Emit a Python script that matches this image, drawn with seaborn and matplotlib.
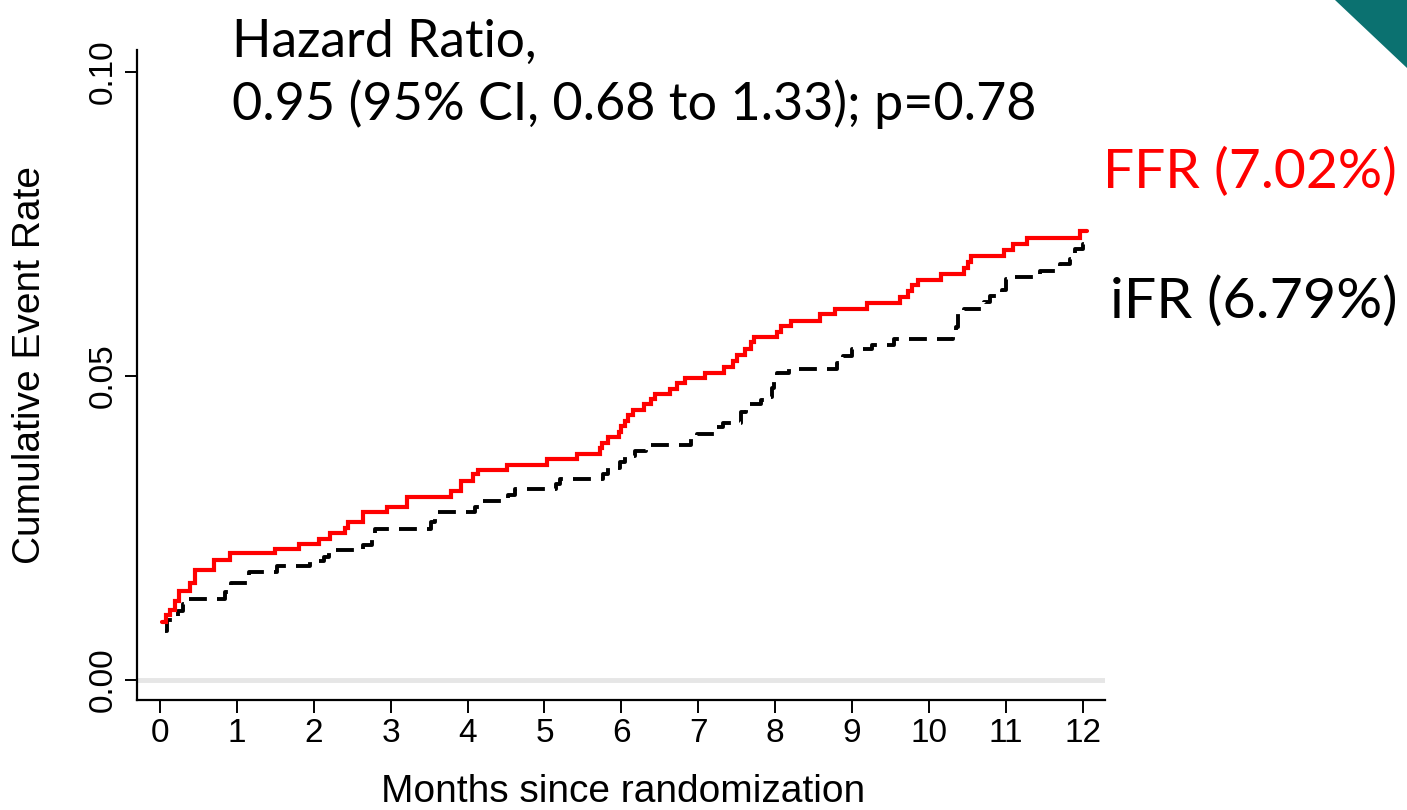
import numpy as np
import pandas as pd
import seaborn as sns
import matplotlib
matplotlib.use("Agg")
import matplotlib.pyplot as plt
from matplotlib import font_manager
from matplotlib.patches import Polygon

# ---------------- data ----------------
ffr_months = [0.02, 0.08, 0.13, 0.20, 0.25, 0.39, 0.45, 0.70, 0.91, 1.50, 1.81, 2.07,
              2.21, 2.40, 2.45, 2.64, 2.95, 3.21, 3.79, 3.92, 4.07, 4.13, 4.51, 5.03,
              5.42, 5.72, 5.75, 5.82, 5.97, 6.00, 6.05, 6.08, 6.15, 6.30, 6.39, 6.44,
              6.63, 6.72, 6.83, 7.09, 7.34, 7.45, 7.50, 7.61, 7.69, 7.73, 8.03, 8.08,
              8.21, 8.58, 8.78, 9.20, 9.63, 9.73, 9.78, 9.86, 10.16, 10.45, 10.51, 10.55,
              10.97, 11.09, 11.28, 11.96, 12.05]
ffr_rate = [0.0096, 0.0106, 0.0115, 0.0130, 0.0147, 0.0160, 0.0180, 0.0198, 0.0208, 0.0216,
            0.0224, 0.0232, 0.0241, 0.0250, 0.0260, 0.0277, 0.0284, 0.0301, 0.0310, 0.0327,
            0.0338, 0.0346, 0.0354, 0.0364, 0.0372, 0.0382, 0.0390, 0.0400, 0.0407, 0.0417,
            0.0426, 0.0435, 0.0444, 0.0453, 0.0462, 0.0471, 0.0479, 0.0489, 0.0497, 0.0505,
            0.0515, 0.0524, 0.0535, 0.0545, 0.0555, 0.0564, 0.0572, 0.0582, 0.0591, 0.0601,
            0.0610, 0.0620, 0.0629, 0.0640, 0.0649, 0.0657, 0.0667, 0.0678, 0.0688, 0.0697,
            0.0707, 0.0717, 0.0727, 0.0738, 0.0738]

ifr_months = [0.065, 0.09, 0.23, 0.30, 0.37, 0.85, 0.92, 1.16, 1.52, 1.95, 2.13, 2.20,
              2.64, 2.76, 2.80, 3.53, 3.58, 4.10, 4.17, 4.53, 4.62, 5.15, 5.20, 5.76,
              5.83, 5.98, 6.05, 6.18, 6.32, 6.90, 6.98, 7.22, 7.32, 7.55, 7.62, 7.81,
              7.90, 7.96, 7.99, 8.02, 8.18, 8.80, 8.88, 9.00, 9.26, 9.55, 10.31, 10.35,
              10.38, 10.45, 10.72, 10.80, 10.95, 11.00, 11.10, 11.44, 11.70, 11.83, 11.90,
              12.00, 12.04, 12.05]
ifr_rate = [0.0081, 0.0099, 0.0113, 0.0125, 0.0133, 0.0144, 0.0160, 0.0177, 0.0187, 0.0195,
            0.0203, 0.0213, 0.0222, 0.0235, 0.0248, 0.0260, 0.0277, 0.0284, 0.0294, 0.0304,
            0.0314, 0.0322, 0.0331, 0.0339, 0.0349, 0.0358, 0.0368, 0.0377, 0.0387, 0.0396,
            0.0404, 0.0416, 0.0423, 0.0440, 0.0454, 0.0460, 0.0466, 0.0480, 0.0493, 0.0505,
            0.0512, 0.0522, 0.0532, 0.0544, 0.0551, 0.0560, 0.0570, 0.0580, 0.0601, 0.0610,
            0.0621, 0.0631, 0.0642, 0.0659, 0.0663, 0.0673, 0.0684, 0.0692, 0.0708, 0.0717,
            0.0725, 0.0725]

x_ticks = list(range(0, 13))
y_ticks = [0.00, 0.05, 0.10]
y_tick_labels = ["0.00", "0.05", "0.10"]

title_lines = ["Hazard Ratio,", "0.95 (95% CI, 0.68 to 1.33); p=0.78"]
ffr_label = "FFR (7.02%)"
ifr_label = "iFR (6.79%)"
x_label = "Months since randomization"
y_label = "Cumulative Event Rate"

# ---------------- style ----------------
sns.set_theme(style="white")
available = {f.name for f in font_manager.fontManager.ttflist}
axis_font = "Liberation Sans Narrow" if "Liberation Sans Narrow" in available else "Liberation Sans"
anno_font = "Lato" if "Lato" in available else "DejaVu Sans"
plt.rcParams["font.family"] = [axis_font, "DejaVu Sans"]

W, H = 1407, 810
fig = plt.figure(figsize=(W / 100, H / 100), dpi=100)
fig.patch.set_facecolor("white")
ax = fig.add_axes([137 / W, 1 - 700 / H, (1105 - 137) / W, (700 - 50) / H])
ax.set_facecolor("white")

ffr_df = pd.DataFrame({"month": ffr_months, "rate": ffr_rate})
ifr_df = pd.DataFrame({"month": ifr_months, "rate": ifr_rate})

# zero reference line
ax.axhline(0.0, color="#e6e6e6", lw=3.5, zorder=1)

sns.lineplot(data=ifr_df, x="month", y="rate", ax=ax, color="black", lw=2.8,
             drawstyle="steps-post", estimator=None, sort=False,
             linestyle=(0, (4.6, 2.6)), dash_capstyle="butt", zorder=3)
sns.lineplot(data=ffr_df, x="month", y="rate", ax=ax, color="#ff0000", lw=3.0,
             drawstyle="steps-post", estimator=None, sort=False, zorder=4,
             solid_joinstyle="miter")

ax.set_xlim(-0.30, 12.29)
ax.set_ylim(-0.0033, 0.1036)
ax.set_xticks(x_ticks)
ax.set_xticklabels([str(t) for t in x_ticks])
ax.set_yticks(y_ticks)
ax.set_yticklabels(y_tick_labels, rotation=90, va="center")

for side in ["top", "right"]:
    ax.spines[side].set_visible(False)
for side in ["left", "bottom"]:
    ax.spines[side].set_visible(True)
    ax.spines[side].set_color("black")
    ax.spines[side].set_linewidth(1.6)

ax.tick_params(axis="both", which="major", direction="out", length=9, width=1.4,
               color="black", labelsize=24, labelcolor="black", pad=4,
               bottom=True, left=True)
ax.set_xlabel(x_label, fontsize=28, color="black")
ax.xaxis.label.set_va("baseline")
ax.xaxis.set_label_coords((623 - 137) / 968, (700 - 802) / 650)
ax.set_ylabel(y_label, fontsize=28, color="black")
ax.yaxis.set_label_coords((48 - 137) / 968, (700 - 365) / 650)
ax.grid(False)

# ---------------- annotations ----------------
fig.canvas.draw()
renderer = fig.canvas.get_renderer()


def fit_text(s, x0, x1, baseline, color="black", family=anno_font):
    t = fig.text(x0 / W, 1 - baseline / H, s, fontsize=30, color=color,
                 family=[family, "DejaVu Sans"], ha="left", va="baseline")
    w = t.get_window_extent(renderer).width
    t.set_fontsize(30 * (x1 - x0) / w)
    return t


fit_text(title_lines[0], 232, 536, 57)
fit_text(title_lines[1], 232, 1035, 120)
fit_text(ffr_label, 1103, 1397, 188, color="#ff0000")
fit_text(ifr_label, 1110, 1397, 318)

# decorative corner triangle
tri = Polygon([[1335 / W, 1.0], [1.0, 1.0], [1.0, 1 - 68 / H]], closed=True,
              transform=fig.transFigure, facecolor="#0b7170", edgecolor="none")
fig.patches.append(tri)

fig.savefig("out.png", dpi=100, facecolor="white")
